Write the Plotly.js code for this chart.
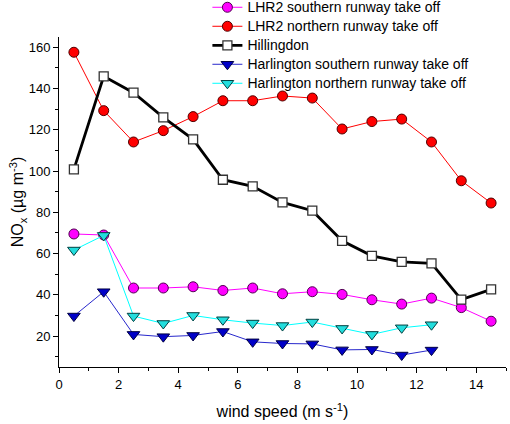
<!DOCTYPE html>
<html>
<head>
<meta charset="utf-8">
<script src="https://cdn.plot.ly/plotly-3.0.1.min.js"></script>
<style>
  html, body { margin: 0; padding: 0; background: #fff; }
  #chart { width: 510px; height: 424px; }
</style>
</head>
<body>
<div id="chart"></div>
<script>
// Wind speed bins (m/s)
const windSpeed = [0.5, 1.5, 2.5, 3.5, 4.5, 5.5, 6.5, 7.5, 8.5, 9.5, 10.5, 11.5, 12.5, 13.5, 14.5];
const windSpeedHarlington = [0.5, 1.5, 2.5, 3.5, 4.5, 5.5, 6.5, 7.5, 8.5, 9.5, 10.5, 11.5, 12.5];

// NOx concentrations (µg m-3)
const lhr2Southern = [69.5, 69, 43.3, 43.3, 43.9, 42.1, 43.3, 40.5, 41.5, 40.2, 37.6, 35.5, 38.4, 33.8, 27.2];
const lhr2Northern = [157.6, 129.3, 114.1, 119.6, 126.4, 134.1, 134.1, 136.4, 135.4, 120.4, 124, 125.2, 114.1, 95.3, 84.5];
const hillingdon = [100.8, 145.9, 138, 126, 115.4, 95.8, 92.6, 84.8, 80.8, 66.2, 58.9, 56, 55.2, 37.7, 42.6];
const harlingtonSouthern = [29.7, 41.5, 20.8, 19.7, 20.3, 22.2, 17.2, 16.4, 16.2, 13.3, 13.5, 10.8, 13.2];
const harlingtonNorthern = [61.7, 68.8, 29.7, 26.1, 30, 27.9, 26.3, 25.1, 26.8, 23.7, 20.8, 24, 25.5];

const seriesNames = [
  'LHR2 southern runway take off',
  'LHR2 northern runway take off',
  'Hillingdon',
  'Harlington southern runway take off',
  'Harlington northern runway take off'
];

const xTickValues = [0, 2, 4, 6, 8, 10, 12, 14];
const yTickValues = [20, 40, 60, 80, 100, 120, 140, 160];

// Legend rows are spaced by the legend font size, so the legend font is kept
// small and the entry text itself is set in a larger span.
const legendLabel = name => '<span style="font-size:14px">' + name + '</span>';

const traces = [
  {
    x: windSpeed, y: lhr2Southern, name: legendLabel(seriesNames[0]),
    mode: 'lines+markers', type: 'scatter',
    line: { color: '#FF00FF', width: 1 },
    marker: { symbol: 'circle', size: 10, color: '#FF00FF', line: { color: '#500050', width: 1 } }
  },
  {
    x: windSpeed, y: lhr2Northern, name: legendLabel(seriesNames[1]),
    mode: 'lines+markers', type: 'scatter',
    line: { color: '#FF0000', width: 1 },
    marker: { symbol: 'circle', size: 10, color: '#FF0000', line: { color: '#500000', width: 1 } }
  },
  {
    x: windSpeed, y: hillingdon, name: legendLabel(seriesNames[2]),
    mode: 'lines+markers', type: 'scatter',
    line: { color: '#000000', width: 2.8 },
    marker: { symbol: 'square', size: 9, color: '#FFFFFF', line: { color: '#333333', width: 1.3 } }
  },
  {
    x: windSpeedHarlington, y: harlingtonSouthern, name: legendLabel(seriesNames[3]),
    mode: 'lines+markers', type: 'scatter',
    line: { color: '#2828CC', width: 1 },
    marker: { symbol: 'triangle-down', size: 11, color: '#0000C8', line: { color: '#000040', width: 1 } }
  },
  {
    x: windSpeedHarlington, y: harlingtonNorthern, name: legendLabel(seriesNames[4]),
    mode: 'lines+markers', type: 'scatter',
    line: { color: '#00FFFF', width: 1 },
    marker: { symbol: 'triangle-down', size: 11, color: '#22DDDD', line: { color: '#004040', width: 1 } }
  }
];

const font = { family: 'Liberation Sans, Arial, sans-serif', color: '#000000' };

const layout = {
  width: 510, height: 424,
  margin: { l: 59, r: 4, t: 37, b: 57, autoexpand: false },
  paper_bgcolor: '#FFFFFF', plot_bgcolor: '#FFFFFF',
  font: Object.assign({ size: 13 }, font),
  showlegend: true,
  legend: {
    x: 0.332, y: 1.134, xanchor: 'left', yanchor: 'top',
    bgcolor: 'rgba(0,0,0,0)', borderwidth: 0,
    font: Object.assign({ size: 12 }, font)
  },
  xaxis: {
    range: [0, 15],
    tickvals: xTickValues,
    ticks: 'outside', ticklen: 5, tickwidth: 1, tickcolor: '#000',
    minor: { dtick: 1, ticks: 'outside', ticklen: 3, tickwidth: 1, tickcolor: '#000' },
    showline: true, linecolor: '#000', linewidth: 1,
    showgrid: false, zeroline: false,
    tickfont: Object.assign({ size: 13 }, font),
    title: { text: 'wind speed (m s<sup>-1</sup>)', font: Object.assign({ size: 16 }, font), standoff: 15 }
  },
  yaxis: {
    range: [5, 165],
    tickvals: yTickValues,
    ticks: 'outside', ticklen: 5, tickwidth: 1, tickcolor: '#000',
    minor: { dtick: 10, tick0: 0, ticks: 'outside', ticklen: 3, tickwidth: 1, tickcolor: '#000' },
    showline: true, linecolor: '#000', linewidth: 1,
    showgrid: false, zeroline: false,
    tickfont: Object.assign({ size: 13 }, font),
    title: { text: 'NO<sub>x</sub> (µg m<sup>-3</sup>)', font: Object.assign({ size: 16 }, font), standoff: 0 }
  }
};

Plotly.newPlot('chart', traces, layout, { displayModeBar: false, staticPlot: true });
</script>
</body>
</html>
